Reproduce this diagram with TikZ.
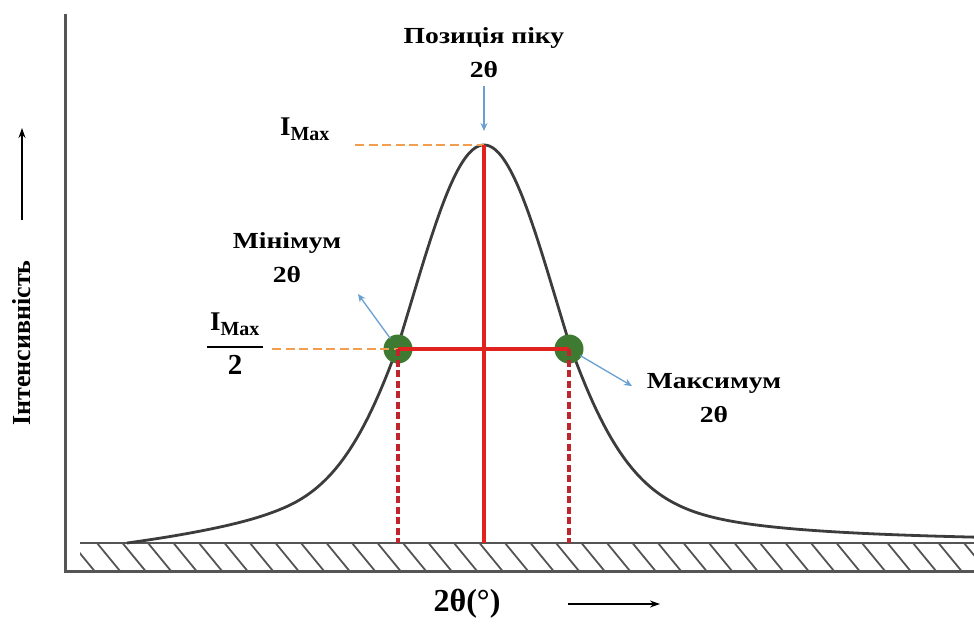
\documentclass[tikz,border=0pt]{standalone}
\usepackage{fontspec}
\setmainfont{Liberation Serif}
\usetikzlibrary{arrows.meta}
\definecolor{curvegray}{HTML}{3C3C3C}
\definecolor{axisgray}{HTML}{555555}
\definecolor{redline}{HTML}{E0231E}
\definecolor{darkred}{HTML}{C0252E}
\definecolor{orangedash}{HTML}{F29E50}
\definecolor{bluearrow}{HTML}{6A9FD2}
\definecolor{dotgreen}{HTML}{3F7A33}
\tikzset{
  declare function={
    gs(\t)=exp(-0.6931*(\t/85.5)*(\t/85.5));
    pv(\t)=0.5/(1+(\t/85.5)*(\t/85.5))+0.5*exp(-0.6931*(\t/85.5)*(\t/85.5));
    pk(\t)=(abs(\t)<=85.5)*gs(\t)+(abs(\t)>85.5)*pv(\t);
    tp(\t)=((\t)<(-200))*(1-((-200-(\t))/157)*((-200-(\t))/157))+((\t)>=(-200));
  },
  lbl/.style={font=\fontsize{23}{34}\selectfont\bfseries, align=center, inner sep=0pt, xscale=1.2},
  bluearr/.style={bluearrow, line width=1.3pt, -{Stealth[length=8pt,width=7pt]}},
  orangeline/.style={orangedash, line width=2.6pt, dash pattern=on 9pt off 4.5pt},
  redsolid/.style={redline, line width=3.2pt},
  reddash/.style={darkred, line width=3.2pt, dash pattern=on 7pt off 3.5pt},
  dot/.style={circle, fill=dotgreen, minimum size=29pt, inner sep=0pt},
  blackarr/.style={black, line width=1.3pt, -{Stealth[length=10pt,width=7pt]}},
  imaxtxt/.style={inner sep=0pt, font=\fontsize{27}{27}\selectfont\bfseries},
}
\newcommand{\imaxlabel}{I\textsubscript{\fontsize{20}{20}\selectfont Max}}
\begin{document}
\begin{tikzpicture}[x=1pt,y=-1pt]
\useasboundingbox (0,0) rectangle (974,627);
% axes
\coordinate (axtop) at (65,14);
\coordinate (origin) at (65,571);
\coordinate (axright) at (974,571);
\coordinate (htl) at (80,543);
\coordinate (htr) at (974,543);
\draw[axisgray, line width=3pt] (axtop) -- (origin) -- (axright);
\draw[axisgray, line width=2pt] (htl) -- (htr);
\begin{scope}
  \clip (80,543) rectangle (974,571);
  \foreach \k in {0,...,36} {
    \draw[axisgray, line width=1.8pt] ({71.5+25.5*\k},543) -- ({94.5+25.5*\k},571);
  }
\end{scope}
% curve
\draw[curvegray, line width=2.8pt] plot[domain=-357:490, samples=300, smooth]
  ({484+\x},{543-398*pk(\x)*tp(\x)});
% key points
\coordinate (peak) at (484,145);
\coordinate (peakbase) at (484,543);
\node[dot] (lc) at (398,349) {};
\node[dot] (rc) at (569,349) {};
\coordinate (lbase) at (398,543);
\coordinate (rbase) at (569,543);
\coordinate (omax) at (355,145);
\coordinate (ohalf) at (272,349);
% orange dashes
\draw[orangeline] (omax) -- (peak);
\draw[orangeline] (ohalf) -- (lc.center);
% red lines
\draw[redsolid] (lc.center) -- (rc.center);
\draw[redsolid] (peak) -- (peakbase);
\draw[reddash] (lc.center) -- (lbase);
\draw[reddash] (rc.center) -- (rbase);
% labels
\node[lbl] (pos) at (484,53) {Позиція піку\\2θ};
\node[lbl] (minl) at (287,258) {Мінімум\\2θ};
\node[lbl] (maxl) at (714,398) {Максимум\\2θ};
\node[imaxtxt] (imax) at (305,129) {\imaxlabel};
\node[imaxtxt] (ihalfn) at (235,324) {\imaxlabel};
\node[inner sep=0pt, font=\fontsize{29}{29}\selectfont\bfseries] (ihalfd) at (235,365) {2};
\coordinate (barl) at (207,347);
\coordinate (barr) at (263,347);
\draw[black, line width=1.8pt] (barl) -- (barr);
% blue arrows
\coordinate (posend) at (484,131);
\coordinate (minend) at (358,294);
\coordinate (maxend) at (632,386);
\draw[bluearr, shorten <=8pt] (pos.south) -- (posend);
\draw[bluearr, shorten <=13pt] (lc.center) -- (minend);
\draw[bluearr, shorten <=13pt] (rc.center) -- (maxend);
% axis titles
\node[inner sep=0pt, rotate=90, font=\fontsize{26}{26}\selectfont\bfseries] (ylab) at (22,343) {Інтенсивність};
\coordinate (yarrs) at (22,220);
\coordinate (yarre) at (22,128);
\draw[blackarr] (yarrs) -- (yarre);
\node[inner sep=0pt, font=\fontsize{32}{32}\selectfont\bfseries] (xlab) at (467,604) {2θ(°)};
\coordinate (xarrs) at (568,604);
\coordinate (xarre) at (660,604);
\draw[blackarr] (xarrs) -- (xarre);
\end{tikzpicture}
\end{document}
